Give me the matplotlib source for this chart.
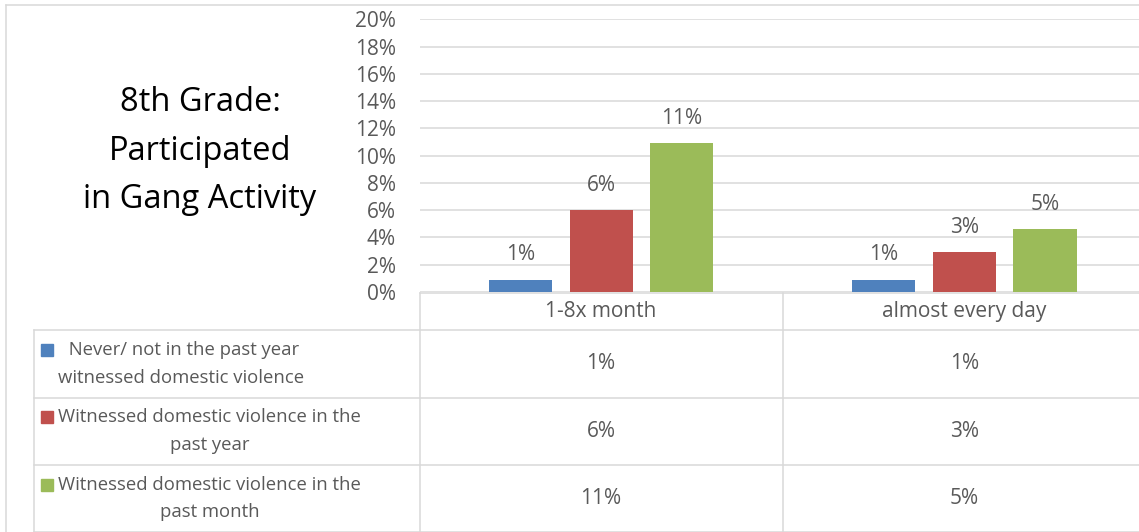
import matplotlib.pyplot as plt
import numpy as np
from matplotlib.lines import Line2D
from matplotlib.patches import Rectangle
from matplotlib.ticker import PercentFormatter, MultipleLocator
from matplotlib.transforms import blended_transform_factory

# data
CATEGORIES = ["1-8x month", "almost every day"]
SERIES = ["Never/ not in the past year\nwitnessed domestic violence",
          "Witnessed domestic violence in the\npast year",
          "Witnessed domestic violence in the\npast month"]
never_dv = [0.009, 0.009]
dv_past_year = [0.060, 0.029]
dv_past_month = [0.109, 0.046]
VALUES = [never_dv, dv_past_year, dv_past_month]
COLORS = ['#4F81BD', '#C0504D', '#9BBB59']
TITLE = "8th Grade:\nParticipated\nin Gang Activity"

FONT = 'Open Sans'
GRAY = '#595959'
LINE = '#D9D9D9'
W, H = 1139, 532


def fx(x):
    return x / W


def fy(y):
    return 1 - y / H


def pct(v):
    return f"{int(v * 100 + 0.5)}%"


plt.rcParams['font.family'] = [FONT, 'DejaVu Sans']

fig = plt.figure(figsize=(W / 100, H / 100), dpi=100)
ax = fig.add_axes([fx(419.5), fy(292), fx(1146) - fx(419.5), fy(19.3) - fy(292)])

x = np.arange(len(CATEGORIES))
offsets = [-0.222, 0, 0.222]
for vals, off, col in zip(VALUES, offsets, COLORS):
    bars = ax.bar(x + off, vals, width=0.174, color=col, zorder=3)
    for b, v in zip(bars, vals):
        ax.annotate(pct(v), (b.get_x() + b.get_width() / 2, v),
                    xytext=(0, 14), textcoords='offset points', ha='center',
                    va='baseline', fontsize=15, color=GRAY)

ax.set_xlim(-0.5, 1.5)
ax.set_ylim(0, 0.20)
ax.yaxis.set_major_locator(MultipleLocator(0.02))
ax.yaxis.set_major_formatter(PercentFormatter(1.0, decimals=0))
ax.grid(axis='y', color=LINE, linewidth=1.1, zorder=0)
ax.tick_params(axis='y', length=0, pad=17, labelsize=15, labelcolor=GRAY)
ax.set_xticks([])
for s in ax.spines.values():
    s.set_visible(False)

# chart border
fig.add_artist(Line2D([fx(6), fx(1200)], [fy(5), fy(5)], transform=fig.transFigure,
                      color=LINE, lw=1.1))
fig.add_artist(Line2D([fx(6), fx(6)], [fy(5), fy(600)], transform=fig.transFigure,
                      color=LINE, lw=1.1))

# data table
row_edges = [293, 330, 397.7, 465, 532]
tr = blended_transform_factory(ax.transData, fig.transFigure)
fig.add_artist(Line2D([fx(419.5), fx(1200)], [fy(293), fy(293)],
                      transform=fig.transFigure, color=LINE, lw=1.1))
for y in row_edges[1:]:
    fig.add_artist(Line2D([fx(34), fx(1200)], [fy(y), fy(y)],
                          transform=fig.transFigure, color=LINE, lw=1.1))
fig.add_artist(Line2D([fx(34), fx(34)], [fy(330), fy(600)],
                      transform=fig.transFigure, color=LINE, lw=1.1))
for xv in [-0.5, 0.5, 1.5]:
    fig.add_artist(Line2D([xv, xv], [fy(293), fy(600)], transform=tr,
                          color=LINE, lw=1.1))

for i, c in enumerate(CATEGORIES):
    fig.text(i, fy((row_edges[0] + row_edges[1]) / 2), c, transform=tr,
             ha='center', va='center', fontsize=15, color=GRAY)

for r, (name, vals, col) in enumerate(zip(SERIES, VALUES, COLORS)):
    yc = (row_edges[r + 1] + row_edges[r + 2]) / 2
    for i, v in enumerate(vals):
        fig.text(i, fy(yc), pct(v), transform=tr,
                 ha='center', va='center', fontsize=15, color=GRAY)
    label = name if r > 0 else " " + name
    fig.text(fx(58), fy(yc), label, ha='left', va='center', multialignment='center',
             fontsize=13.3, color=GRAY, linespacing=1.7)
    fig.add_artist(Rectangle((fx(41), fy(yc - 14 + 6)), fx(12), fy(0) - fy(12),
                             transform=fig.transFigure, color=col))

fig.text(fx(200), fy(151), TITLE, ha='center', va='center', multialignment='center',
         fontsize=23.5, color='black', linespacing=1.62)

fig.savefig('out.png', dpi=100, facecolor='white')
